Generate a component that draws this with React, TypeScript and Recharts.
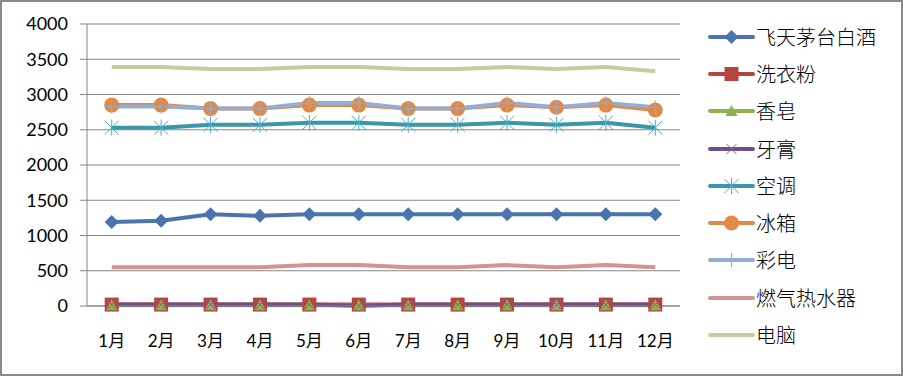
import React from "react";
import { LineChart, Line, XAxis, YAxis, CartesianGrid } from "recharts";

const months = ["1月", "2月", "3月", "4月", "5月", "6月", "7月", "8月", "9月", "10月", "11月", "12月"];
const yTicks = [0, 500, 1000, 1500, 2000, 2500, 3000, 3500, 4000];
const boundaryTicks = [0, 1, 2, 3, 4, 5, 6, 7, 8, 9, 10, 11, 12];

const feitian = [1190, 1210, 1300, 1280, 1300, 1300, 1300, 1300, 1300, 1300, 1300, 1300];
const xiyifen = [20, 20, 20, 20, 20, 20, 20, 20, 20, 20, 20, 20];
const xiangzao = [10, 10, 10, 10, 10, 10, 10, 10, 10, 10, 10, 10];
const yagao = [20, 20, 20, 20, 20, 5, 20, 20, 20, 20, 20, 20];
const kongtiao = [2530, 2530, 2570, 2570, 2600, 2600, 2570, 2570, 2600, 2570, 2600, 2530];
const bingxiang = [2850, 2850, 2800, 2800, 2850, 2850, 2800, 2800, 2850, 2820, 2850, 2780];
const caidian = [2830, 2830, 2800, 2800, 2880, 2880, 2800, 2800, 2880, 2820, 2880, 2820];
const ranqi = [550, 550, 550, 550, 580, 580, 550, 550, 580, 550, 580, 550];
const diannao = [3390, 3390, 3360, 3360, 3390, 3390, 3360, 3360, 3390, 3360, 3390, 3330];

type Shape = "diamond" | "square" | "triangle" | "x" | "star" | "circle" | "plus" | "none";

const series: { key: string; name: string; values: number[]; color: string; marker: Shape; markerColor: string }[] = [
  { key: "feitian", name: "飞天茅台白酒", values: feitian, color: "#4A74AD", marker: "diamond", markerColor: "#4A74AD" },
  { key: "xiyifen", name: "洗衣粉", values: xiyifen, color: "#B5443F", marker: "square", markerColor: "#B5443F" },
  { key: "xiangzao", name: "香皂", values: xiangzao, color: "#8FB04F", marker: "triangle", markerColor: "#8FB04F" },
  { key: "yagao", name: "牙膏", values: yagao, color: "#6E4F8A", marker: "x", markerColor: "#7D60A0" },
  { key: "kongtiao", name: "空调", values: kongtiao, color: "#3B96AA", marker: "star", markerColor: "#4BACC6" },
  { key: "bingxiang", name: "冰箱", values: bingxiang, color: "#E08A48", marker: "circle", markerColor: "#E08A48" },
  { key: "caidian", name: "彩电", values: caidian, color: "#93ADD4", marker: "plus", markerColor: "#93ADD4" },
  { key: "ranqi", name: "燃气热水器", values: ranqi, color: "#D39392", marker: "none", markerColor: "#D39392" },
  { key: "diannao", name: "电脑", values: diannao, color: "#BFD09E", marker: "none", markerColor: "#BFD09E" },
];

const data = months.map((m, i) => {
  const row: Record<string, string | number> = { month: m };
  series.forEach((s) => {
    row[s.key] = s.values[i];
  });
  return row;
});

function markerShape(shape: Shape, color: string, cx: number, cy: number, key?: string | number) {
  switch (shape) {
    case "diamond":
      return <polygon key={key} points={`${cx},${cy - 7} ${cx + 7},${cy} ${cx},${cy + 7} ${cx - 7},${cy}`} fill={color} />;
    case "square":
      return <rect key={key} x={cx - 7} y={cy - 7} width={14} height={14} fill={color} />;
    case "triangle":
      return <polygon key={key} points={`${cx},${cy - 6} ${cx + 6},${cy + 5} ${cx - 6},${cy + 5}`} fill={color} />;
    case "x":
      return (
        <g key={key} stroke={color} strokeWidth={1}>
          <line x1={cx - 5} y1={cy - 5} x2={cx + 5} y2={cy + 5} />
          <line x1={cx - 5} y1={cy + 5} x2={cx + 5} y2={cy - 5} />
        </g>
      );
    case "star":
      return (
        <g key={key} stroke={color} strokeWidth={1}>
          <line x1={cx - 7} y1={cy - 7} x2={cx + 7} y2={cy + 7} />
          <line x1={cx - 7} y1={cy + 7} x2={cx + 7} y2={cy - 7} />
          <line x1={cx} y1={cy - 8} x2={cx} y2={cy + 8} />
        </g>
      );
    case "circle":
      return <circle key={key} cx={cx} cy={cy} r={7.5} fill={color} />;
    case "plus":
      return (
        <g key={key} stroke={color} strokeWidth={1}>
          <line x1={cx} y1={cy - 7} x2={cx} y2={cy + 7} />
          <line x1={cx - 7} y1={cy} x2={cx + 7} y2={cy} />
        </g>
      );
    default:
      return <g key={key} />;
  }
}

const axisColor = "#868686";

export default function App() {
  return (
    <div style={{ position: "absolute", left: 0, top: 0, width: 903, height: 376, background: "#fff" }}>
      <LineChart width={903} height={376} data={data} margin={{ top: 24, right: 223, bottom: 30, left: 0 }}>
        <CartesianGrid vertical={false} stroke={axisColor} strokeWidth={1} />
        <XAxis
          xAxisId="bounds"
          type="number"
          dataKey="idx"
          domain={[0, 12]}
          ticks={boundaryTicks}
          height={0}
          tick={false}
          axisLine={false}
          tickLine={{ stroke: axisColor }}
          tickSize={6}
        />
        <XAxis
          dataKey="month"
          scale="band"
          height={40}
          axisLine={{ stroke: axisColor }}
          tickLine={false}
          tickSize={6}
          tickMargin={23}
          interval={0}
          tick={{ fill: "#000", fontSize: 17, fontFamily: "Lato, 'Noto Sans CJK SC'" }}
        />
        <YAxis
          domain={[0, 4000]}
          ticks={yTicks}
          width={87}
          axisLine={{ stroke: axisColor }}
          tickLine={{ stroke: axisColor }}
          tickSize={7}
          tickMargin={12}
          tick={{ fill: "#000", fontSize: 18, fontFamily: "Lato" }}
        />
        {series.map((s) => (
          <Line
            key={s.key}
            dataKey={s.key}
            name={s.name}
            type="linear"
            stroke={s.color}
            strokeWidth={4}
            isAnimationActive={false}
            activeDot={false}
            dot={
              s.marker === "none"
                ? false
                : (p: any) => markerShape(s.marker, s.markerColor, p.cx, p.cy, `${s.key}-${p.index}`)
            }
          />
        ))}
      </LineChart>
      <div style={{ position: "absolute", left: 708, top: 18 }}>
        {series.map((s) => (
          <div key={s.key} style={{ height: 37.3, display: "flex", alignItems: "center" }}>
            <svg width={48} height={20}>
              <line x1={2} y1={10} x2={45} y2={10} stroke={s.color} strokeWidth={4} strokeLinecap="round" />
              {markerShape(s.marker, s.markerColor, 23.5, 10)}
            </svg>
            <span style={{ fontFamily: "'Noto Sans CJK SC'", fontSize: 20, color: "#000", lineHeight: "20px", fontWeight: 300 }}>
              {s.name}
            </span>
          </div>
        ))}
      </div>
      <div
        style={{
          position: "absolute",
          left: 0,
          top: 0,
          width: 903,
          height: 376,
          boxSizing: "border-box",
          border: "2px solid #8a8a8a",
          pointerEvents: "none",
        }}
      />
    </div>
  );
}
